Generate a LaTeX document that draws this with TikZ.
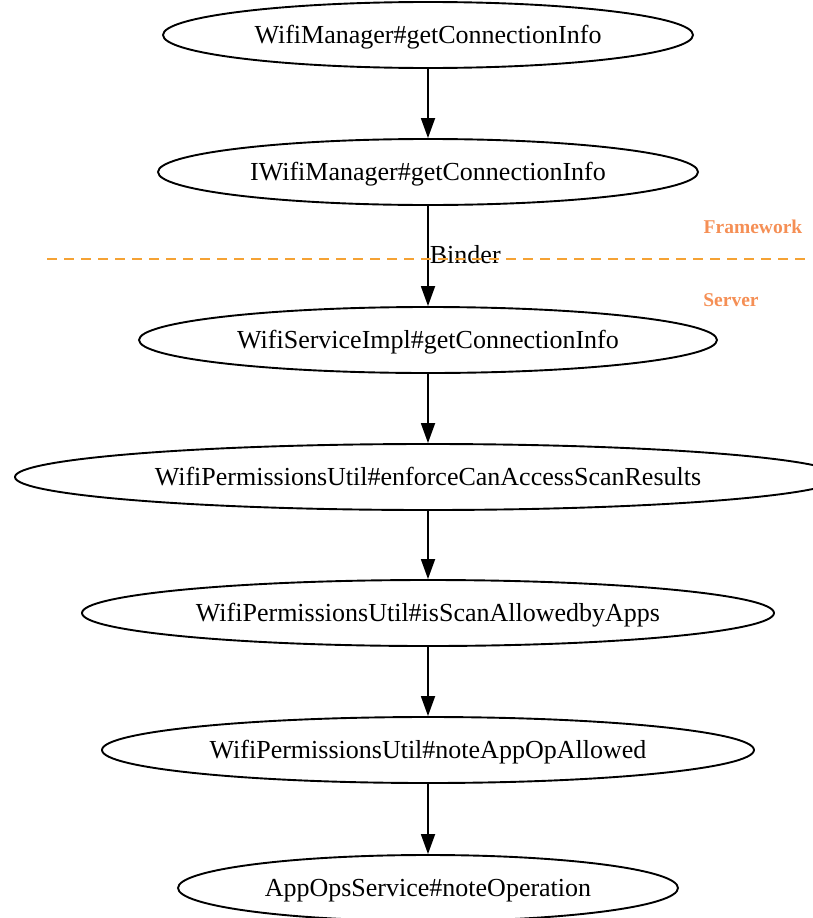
\documentclass[tikz,border=0pt]{standalone}
\usepackage{fontspec}
\setmainfont{Liberation Serif}
\usetikzlibrary{arrows.meta,shapes.geometric}
\definecolor{dashorange}{HTML}{F5A234}
\definecolor{lblorange}{HTML}{F58F55}
\tikzset{
  fn/.style={draw=black, line width=1.9pt, ellipse, inner sep=0pt, minimum height=66pt, text height=21pt, text depth=4pt, font=\fontsize{26}{30}\selectfont},
  call/.style={draw=black, line width=1.8pt, -{Triangle[length=20pt,width=14pt]}},
  layer/.style={text=lblorange, font=\fontsize{19.5}{22}\selectfont\bfseries},
}
\begin{document}
\begin{tikzpicture}[x=1pt,y=-1pt]
\useasboundingbox (0,0) rectangle (812,918);
\node[fn, minimum width=530pt] (n1) at (428,35) {WifiManager\#getConnectionInfo};
\node[fn, minimum width=540pt] (n2) at (428,172) {IWifiManager\#getConnectionInfo};
\node[fn, minimum width=578pt] (n3) at (428,340) {WifiServiceImpl\#getConnectionInfo};
\node[fn, minimum width=826pt] (n4) at (428,477) {WifiPermissionsUtil\#enforceCanAccessScanResults};
\node[fn, minimum width=692pt] (n5) at (428,613) {WifiPermissionsUtil\#isScanAllowedbyApps};
\node[fn, minimum width=652pt] (n6) at (428,750) {WifiPermissionsUtil\#noteAppOpAllowed};
\node[fn, minimum width=500pt] (n7) at (428,888) {AppOpsService\#noteOperation};
\node[layer] (fw) at (753,227) {Framework};
\node[layer] (sv) at (731,300) {Server};
\draw[call] (n1.south) -- (n2.north);
\draw[call] (n2.south) -- node[right, inner sep=0pt, xshift=1pt, yshift=1pt, font=\fontsize{26}{30}\selectfont] (bl) {Binder} (n3.north);
\draw[call] (n3.south) -- (n4.north);
\draw[call] (n4.south) -- (n5.north);
\draw[call] (n5.south) -- (n6.north);
\draw[call] (n6.south) -- (n7.north);
\coordinate (dl) at (47,259);
\coordinate (dr) at (812,259);
\draw[dashorange, line width=2pt, dash pattern=on 10pt off 7pt] (dl) -- (dr);
\end{tikzpicture}
\end{document}
